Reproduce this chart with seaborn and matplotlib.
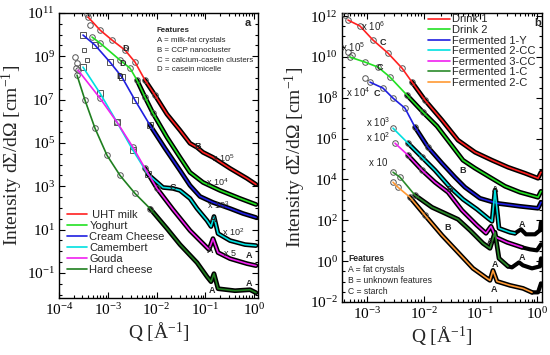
import numpy as np
import pandas as pd
import matplotlib
matplotlib.use("Agg")
import matplotlib.pyplot as plt
import seaborn as sns
from matplotlib.ticker import FixedLocator, FuncFormatter, LogLocator, NullFormatter

# ---------------- data (log10 Q [1/A], log10 intensity, scaled) ----------------
# panel a
uht_logq = [-3.405, -3.159, -2.913, -2.646, -2.441, -2.236, -2.031, -1.785, -1.518, -1.313, -1.169, -1.046, -0.841, -0.492, -0.144, 0.041]
uht_logi = [10.815, 10.213, 9.750, 9.287, 8.731, 7.898, 7.204, 6.324, 5.583, 4.981, 4.796, 4.565, 4.333, 3.824, 3.361, 3.083]
yog_logq = [-3.323, -3.159, -2.749, -2.544, -2.400, -2.236, -2.072, -1.785, -1.518, -1.313, -1.046, -0.697, -0.287, 0.041]
yog_logi = [9.889, 9.611, 8.824, 8.454, 7.898, 7.111, 6.370, 5.259, 4.333, 3.639, 3.176, 2.806, 2.435, 2.157]
cream_logq = [-3.508, -3.262, -2.954, -2.708, -2.441, -2.133, -1.826, -1.518, -1.313, -1.108, -0.841, -0.492, -0.226, 0.041]
cream_logi = [9.981, 9.519, 8.731, 8.037, 6.972, 5.815, 4.750, 3.731, 3.037, 2.528, 2.250, 1.972, 1.741, 1.556]
camb_logq = [-3.508, -3.159, -2.810, -2.482, -2.174, -1.867, -1.662, -1.518, -1.313, -1.169, -0.964, -0.882, -0.821, -0.738, -0.492, -0.185, 0.041]
camb_logi = [8.500, 7.296, 5.954, 4.657, 3.546, 2.944, 2.898, 2.806, 2.435, 1.972, 1.417, 1.139, 1.602, 0.815, 0.491, 0.306, 0.259]
gouda_logq = [-3.610, -3.159, -2.810, -2.482, -2.236, -1.990, -1.662, -1.313, -1.046, -0.923, -0.841, -0.738, -0.492, -0.144, 0.041]
gouda_logi = [8.361, 7.065, 5.954, 4.796, 3.824, 2.898, 1.926, 0.954, 0.352, 0.074, 0.583, -0.065, -0.343, -0.574, -0.667]
hard_logq = [-3.631, -3.467, -3.262, -3.015, -2.749, -2.441, -2.133, -1.785, -1.518, -1.169, -0.964, -0.882, -0.821, -0.738, -0.390, -0.082, 0.041]
hard_logi = [8.130, 6.972, 5.676, 4.426, 3.500, 2.667, 1.972, 1.046, 0.306, -0.528, -1.176, -1.407, -1.037, -1.731, -1.824, -1.778, -1.917]
a_low_circ_logq = [-3.42, -3.36, -3.67, -3.63, -3.65]
a_low_circ_logi = [10.95, 10.44, 8.96, 8.69, 8.45]
a_low_sq_logq = [-3.49, -3.43]
a_low_sq_logi = [9.29, 8.82]

# panel b
d1_logq = [-3.335, -3.123, -2.894, -2.630, -2.383, -2.206, -1.977, -1.677, -1.395, -1.095, -0.795, -0.513, -0.213, 0.016, 0.069]
d1_logi = [11.804, 11.510, 10.824, 10.186, 9.451, 8.765, 7.882, 6.902, 5.922, 5.333, 4.941, 4.598, 4.304, 4.059, 4.353]
d2_logq = [-3.300, -3.035, -2.806, -2.594, -2.295, -2.012, -1.765, -1.536, -1.307, -1.095, -0.831, -0.566, -0.302, 0.016, 0.069]
d2_logi = [9.990, 9.745, 9.500, 9.010, 8.127, 7.294, 6.608, 5.775, 4.941, 4.549, 4.108, 3.667, 3.373, 3.127, 3.422]
f1y_logq = [-2.947, -2.718, -2.541, -2.330, -2.153, -1.924, -1.677, -1.448, -1.272, -1.007, -0.707, -0.302, 0.016, 0.069]
f1y_logi = [8.765, 8.471, 7.980, 7.490, 6.559, 5.578, 4.794, 4.108, 3.618, 3.078, 2.833, 2.686, 2.588, 2.882]
f2cc_logq = [-2.541, -2.277, -2.030, -1.801, -1.536, -1.307, -1.060, -0.866, -0.795, -0.743, -0.672, -0.478, -0.390]
f2cc_logi = [6.510, 5.775, 5.088, 4.451, 3.618, 3.029, 2.539, 2.098, 1.951, 3.471, 1.608, 1.412, 1.363]
f2cc_tail_logq = [-0.390, -0.284, -0.196, -0.037, 0.051, 0.069]
f2cc_tail_logi = [1.363, 1.559, 1.314, 1.314, 1.510, 1.902]
f3cc_logq = [-2.506, -2.277, -2.030, -1.801, -1.571, -1.325, -1.060, -0.901, -0.813, -0.725, -0.531, -0.266]
f3cc_logi = [5.775, 5.186, 4.451, 3.863, 3.373, 2.490, 1.755, 1.363, 1.706, 1.167, 0.922, 0.676]
f3cc_tail_logq = [-0.266, -0.125, -0.002, 0.069]
f3cc_tail_logi = [0.676, 0.578, 0.529, 0.824]
f1c_logq = [-2.541, -2.418, -2.153, -1.854, -1.624, -1.395, -1.183, -0.954, -0.831, -0.743, -0.672, -0.513]
f1c_logi = [4.353, 4.108, 3.225, 2.637, 2.343, 2.049, 1.510, 0.873, 0.627, 1.412, 0.137, -0.255]
f1c_tail_logq = [-0.513, -0.443, -0.319, -0.249, -0.090, 0.051, 0.069]
f1c_tail_logi = [-0.255, -0.304, -0.059, -0.206, -0.353, -0.255, 0.137]
f2c_logq = [-2.541, -2.453, -2.242, -1.977, -1.677, -1.395, -1.131, -0.884, -0.831, -0.778, -0.707, -0.478, -0.249, -0.090]
f2c_logi = [3.863, 3.618, 3.127, 2.245, 1.265, 0.431, -0.353, -0.843, -0.941, -0.451, -0.990, -1.186, -1.333, -1.529]
f2c_tail_logq = [-0.090, 0.016, 0.069]
f2c_tail_logi = [-1.529, -1.529, -1.088]
b_low_logq = [-3.39, -3.34, -3.27, -3.03]
b_low_logi = [12.05, 10.25, 10.10, 8.95]

labels_a = ["UHT milk", "Yoghurt", "Cream Cheese", "Camembert", "Gouda", "Hard cheese"]
labels_b = ["Drink 1", "Drink 2", "Fermented 1-Y", "Fermented 2-CC", "Fermented 3-CC", "Fermented 1-C", "Fermented 2-C"]
colors_a = ["#ff2020", "#22e022", "#1f1fe0", "#00e0e0", "#f020f0", "#1f7f1f"]
colors_b = ["#ff2020", "#22e022", "#1f1fe0", "#00e0e0", "#f020f0", "#2a8a2a", "#ff9933"]

# ---------------- style ----------------
sns.set_theme(style="ticks")
plt.rcParams["font.family"] = ["Liberation Serif", "DejaVu Serif"]
plt.rcParams["mathtext.fontset"] = "custom"
plt.rcParams["mathtext.rm"] = "Liberation Serif"
plt.rcParams["mathtext.sf"] = "Liberation Sans"
plt.rcParams["mathtext.default"] = "regular"
plt.rcParams["axes.edgecolor"] = "black"
plt.rcParams["axes.linewidth"] = 1.0

SANS = ["Liberation Sans", "DejaVu Sans"]

fig = plt.figure(figsize=(5.5, 3.55), dpi=100)
axL = fig.add_axes([0.1073, 0.1606, 0.3618, 0.8028])
axR = fig.add_axes([0.6218, 0.1493, 0.3636, 0.8141])
for ax in (axL, axR):
    ax.set_xscale("log")
    ax.set_yscale("log")


def frame(lq, li):
    return pd.DataFrame({"Q": np.power(10.0, lq), "I": np.power(10.0, li)})


def data_marks(ax, lq, li, marker="o", dense_from=-2.4, mark_until=-1.9):
    df = frame(lq, li)
    dense = df[df.Q >= 10 ** dense_from]
    if len(dense) > 1:
        sns.lineplot(data=dense, x="Q", y="I", ax=ax, color="black", lw=3.4,
                     sort=False, estimator=None, zorder=2)
    sparse = df[df.Q <= 10 ** mark_until]
    sns.lineplot(data=sparse, x="Q", y="I", ax=ax, color="#555555", linestyle="",
                 marker=marker, markersize=4, markerfacecolor="none",
                 markeredgecolor="#555555", markeredgewidth=0.7,
                 sort=False, estimator=None, zorder=3)


def fit_line(ax, lq, li, color, label):
    sns.lineplot(data=frame(lq, li), x="Q", y="I", ax=ax, color=color, lw=1.2,
                 sort=False, estimator=None, label=label, zorder=4)


def tail(ax, lq, li):
    sns.lineplot(data=frame(lq, li), x="Q", y="I", ax=ax, color="black", lw=3.0,
                 sort=False, estimator=None, zorder=2)


# ---------------- panel a ----------------
series_a = [(uht_logq, uht_logi, "o"), (yog_logq, yog_logi, "o"), (cream_logq, cream_logi, "s"),
            (camb_logq, camb_logi, "s"), (gouda_logq, gouda_logi, "o"), (hard_logq, hard_logi, "o")]
for (lq, li, mk) in series_a:
    data_marks(axL, lq, li, marker=mk)
sns.lineplot(data=frame(a_low_circ_logq, a_low_circ_logi), x="Q", y="I", ax=axL, linestyle="",
             marker="o", markersize=4, markerfacecolor="none", markeredgecolor="#555555",
             markeredgewidth=0.7, color="#555555", sort=False, estimator=None, zorder=3)
sns.lineplot(data=frame(a_low_sq_logq, a_low_sq_logi), x="Q", y="I", ax=axL, linestyle="",
             marker="s", markersize=3.5, markerfacecolor="none", markeredgecolor="#555555",
             markeredgewidth=0.7, color="#555555", sort=False, estimator=None, zorder=3)
for (lq, li, mk), col, lab in zip(series_a, colors_a, labels_a):
    fit_line(axL, lq, li, col, (" " + lab) if lab == "UHT milk" else lab)

# ---------------- panel b ----------------
series_b = [(d1_logq, d1_logi), (d2_logq, d2_logi), (f1y_logq, f1y_logi), (f2cc_logq, f2cc_logi),
            (f3cc_logq, f3cc_logi), (f1c_logq, f1c_logi), (f2c_logq, f2c_logi)]
for lq, li in series_b:
    data_marks(axR, lq, li, dense_from=-2.3)
for lq, li in [(f2cc_tail_logq, f2cc_tail_logi), (f3cc_tail_logq, f3cc_tail_logi),
               (f1c_tail_logq, f1c_tail_logi), (f2c_tail_logq, f2c_tail_logi)]:
    tail(axR, lq, li)
sns.lineplot(data=frame(b_low_logq, b_low_logi), x="Q", y="I", ax=axR, linestyle="",
             marker="o", markersize=4, markerfacecolor="none", markeredgecolor="#555555",
             markeredgewidth=0.7, color="#555555", sort=False, estimator=None, zorder=3)
for (lq, li), col, lab in zip(series_b, colors_b, labels_b):
    fit_line(axR, lq, li, col, lab)

# ---------------- axes ----------------
def sci(v, pos):
    return r"$\mathdefault{10^{%d}}$" % int(round(np.log10(v)))


axL.set_xlim(1e-4, 10 ** 0.082)
axL.set_ylim(10 ** -2.16, 1e11)
axR.set_xlim(10 ** -3.441, 10 ** 0.086)
axR.set_ylim(1e-2, 10 ** 12.15)

axL.yaxis.set_major_locator(FixedLocator([10.0 ** e for e in range(-1, 12, 2)]))
axL.yaxis.set_minor_locator(FixedLocator([10.0 ** (k / 2) for k in range(-5, 23)]))
axR.yaxis.set_major_locator(FixedLocator([10.0 ** e for e in range(-2, 13, 2)]))
axR.yaxis.set_minor_locator(FixedLocator([10.0 ** (k / 2) for k in range(-4, 25)]))
for ax in (axL, axR):
    ax.yaxis.set_major_formatter(FuncFormatter(sci))
    ax.yaxis.set_minor_formatter(NullFormatter())
    ax.xaxis.set_major_locator(LogLocator(base=10, numticks=10))
    ax.xaxis.set_minor_locator(LogLocator(base=10, subs=np.arange(2, 10), numticks=10))
    ax.xaxis.set_major_formatter(FuncFormatter(sci))
    ax.xaxis.set_minor_formatter(NullFormatter())
    ax.tick_params(which="both", direction="in", top=True, right=True, width=0.8, colors="black")
    ax.tick_params(which="major", length=4, labelsize=11, pad=3)
    ax.tick_params(which="minor", length=2)
    ax.set_xlabel(r"Q [Å$^{-1}$]", fontsize=14, labelpad=2)
    ax.set_ylabel(r"Intensity dΣ/dΩ [cm$^{-1}$]", fontsize=14, labelpad=1)
    for s in ax.spines.values():
        s.set_color("black")
        s.set_linewidth(1.0)

axL.legend(loc="upper left", bbox_to_anchor=(0.04, 0.31), frameon=False,
           prop={"family": SANS, "size": 8}, handlelength=1.8, handletextpad=0.2,
           labelspacing=0.1, borderpad=0, borderaxespad=0)
axR.legend(loc="upper left", bbox_to_anchor=(0.43, 0.995), frameon=False,
           prop={"family": SANS, "size": 8}, handlelength=2.0, handletextpad=0.2,
           labelspacing=0.05, borderpad=0, borderaxespad=0)

# ---------------- annotations ----------------
def lbl(ax, lq, li, s, bold=True, size=6.5):
    ax.text(10 ** lq, 10 ** li, s, ha="center", va="center", family=SANS, size=size,
            fontweight="bold" if bold else "normal", zorder=6)


for lq, li in [(-2.626, 9.38), (-2.687, 8.685), (-2.749, 8.083)]:
    lbl(axL, lq, li, "D")
lbl(axL, -1.149, 4.843, "B")
lbl(axL, -1.662, 2.944, "C")
for lq, li in [(-0.841, 1.463), (-0.902, 0.028), (-0.103, -0.204), (-0.861, -1.824), (-0.103, -1.5)]:
    lbl(axL, lq, li, "A")
for lq, li, s in [(-0.636, 4.287, r"x 10$^{5}$"), (-0.759, 3.176, r"x 10$^{4}$"),
                  (-0.738, 2.111, r"x 10$^{3}$"), (-0.431, 0.861, r"x 10$^{2}$"),
                  (-0.492, -0.111, "x 5")]:
    lbl(axL, lq, li, s, bold=False)

for lq, li in [(-2.718, 10.725), (-2.771, 9.5), (-2.824, 8.225)]:
    lbl(axR, lq, li, "C")
for lq, li in [(-1.307, 4.451), (-1.536, 3.52), (-1.571, 1.657)]:
    lbl(axR, lq, li, "B")
for lq, li in [(-0.743, 3.52), (-0.266, 1.804), (-0.831, 0.97), (-0.266, 0.186), (-0.743, -0.157), (-0.760, -1.382)]:
    lbl(axR, lq, li, "A")
for lq, li, s in [(-2.894, 11.51, r"x 10$^{6}$"), (-3.247, 10.48, r"x 10$^{5}$"),
                  (-3.159, 8.275, r"x 10$^{4}$"), (-2.806, 6.804, r"x 10$^{3}$"),
                  (-2.806, 6.069, r"x 10$^{2}$"), (-2.806, 4.794, "x 10")]:
    lbl(axR, lq, li, s, bold=False, size=7)

feat_a = ["A = milk-fat crystals", "B = CCP nanocluster", "C = calcium-casein clusters", "D = casein micelle"]
axL.text(0.492, 0.937, "Features", transform=axL.transAxes, family=SANS, size=5.7,
         fontweight="bold", va="center")
for k, s in enumerate(feat_a):
    axL.text(0.492, 0.903 - k * 0.034, s, transform=axL.transAxes, family=SANS, size=5.7, va="center")
axL.text(0.95, 0.965, "a", transform=axL.transAxes, family=SANS, size=8, fontweight="bold",
         ha="center", va="center")

feat_b = ["A = fat crystals", "B = unknown features", "C = starch"]
axR.text(0.03, 0.149, "Features", transform=axR.transAxes, family=SANS, size=6.2,
         fontweight="bold", va="center")
for k, s in enumerate(feat_b):
    axR.text(0.03, 0.112 - k * 0.038, s, transform=axR.transAxes, family=SANS, size=6.2, va="center")
axR.text(0.98, 0.965, "b", transform=axR.transAxes, family=SANS, size=8, fontweight="bold",
         ha="center", va="center")

fig.savefig("out.png", dpi=100)
